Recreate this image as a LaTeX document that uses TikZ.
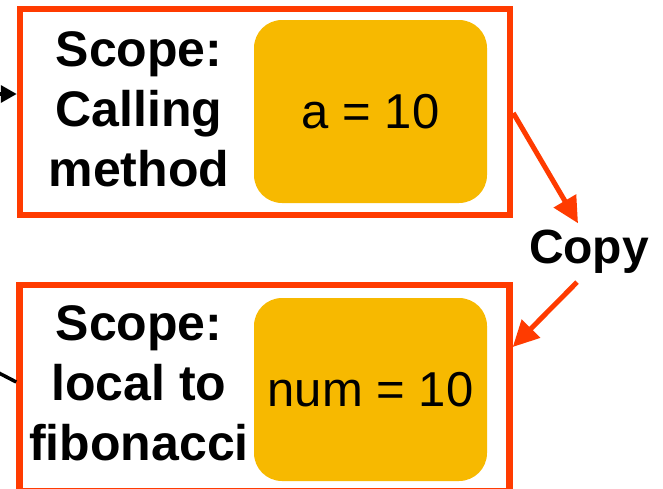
\documentclass[tikz,border=0pt]{standalone}
\usepackage{fontspec}
\setmainfont{Liberation Sans}
\usetikzlibrary{arrows.meta, calc}
\definecolor{framered}{RGB}{255,59,0}
\definecolor{valyellow}{RGB}{247,185,0}

\begin{document}
\begin{tikzpicture}[x=1pt, y=-1pt,
  frame/.style={draw=framered, line width=6.5pt, minimum width=490pt,
    minimum height=206pt, inner sep=0pt},
  val/.style={fill=valyellow, rounded corners=28pt, minimum width=233pt,
    minimum height=183pt, font=\fontsize{49}{56}\selectfont},
  scopelbl/.style={align=center, anchor=base, inner sep=0pt,
    font=\bfseries\fontsize{50}{60}\selectfont},
  copyarr/.style={-{Triangle[length=26pt, width=25pt]}, draw=framered,
    line width=5pt},
  callarr/.style={-{Triangle[length=16pt, width=17pt]}, line width=3.5pt}
]
  \useasboundingbox (0,0) rectangle (663,488);
  \clip (0,0) rectangle (663,488);

  % the two scopes
  \node[frame] (calling) at (265,112) {};
  \node[frame] (fib) at (264.5,388) {};
  \node[val] (aval) at (370.5,111.5) {a = 10};
  \node[val] (numval) at (370.5,389.5) {num = 10};
  \node[scopelbl] (callscope) at (139,186) {Scope:\\Calling\\method};
  \node[scopelbl] (fibscope) at (139,460) {Scope:\\local to\\fibonacci};

  \node[anchor=base, inner sep=0pt,
    font=\bfseries\fontsize{48}{56}\selectfont] (copy) at (589,263) {Copy};
  \draw[copyarr] ($(calling.east)+(0,1)$) -- ($(copy.north)+(-11,-6)$);
  \draw[copyarr] ($(copy.south)+(-12,9)$) -- ($(fib.east)+(0,-41)$);

  % incoming lines from the left
  \coordinate (callin) at (-40,94);
  \coordinate (fibin) at (-30,358);
  \draw[callarr] (callin) -- (callin -| calling.west);
  \draw[line width=3.5pt] (fibin) -- ($(fib.west)+(0,-6)$);
\end{tikzpicture}
\end{document}
